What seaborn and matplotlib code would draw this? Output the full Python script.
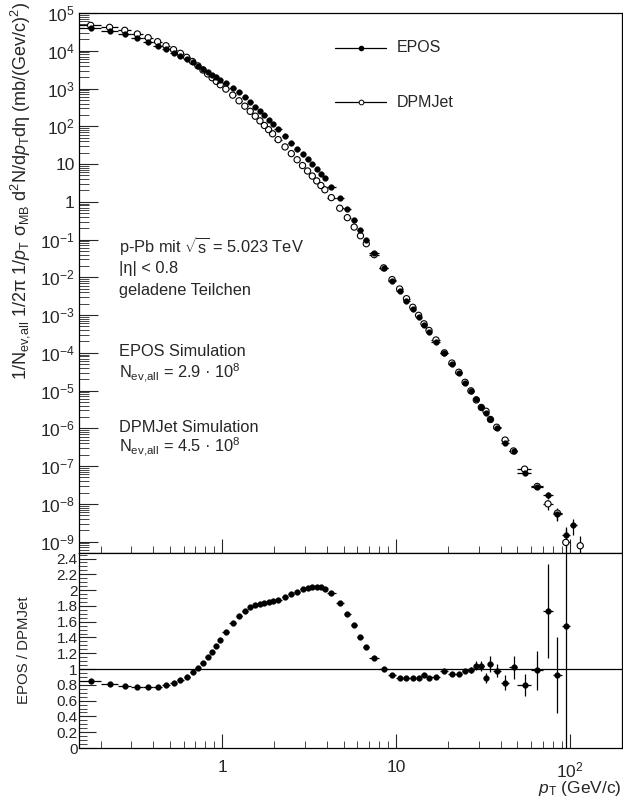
import numpy as np
import matplotlib
matplotlib.use("Agg")
import matplotlib.pyplot as plt
import seaborn as sns
from matplotlib.ticker import LogLocator, FuncFormatter, MultipleLocator, NullFormatter, FixedLocator
from matplotlib.lines import Line2D

sns.set_theme(style="ticks")
plt.rcParams["font.family"] = ["Liberation Sans", "DejaVu Sans"]
plt.rcParams["mathtext.fontset"] = "custom"
plt.rcParams["mathtext.rm"] = "Liberation Sans"
plt.rcParams["mathtext.it"] = "Liberation Sans:italic"
plt.rcParams["mathtext.bf"] = "Liberation Sans:bold"
plt.rcParams["axes.linewidth"] = 0.9
plt.rcParams["axes.edgecolor"] = "black"

# ---------------- data ----------------
pt = [0.175, 0.225, 0.275, 0.325, 0.375, 0.425, 0.475, 0.525, 0.575, 0.625, 0.675, 0.725, 0.775,
      0.825, 0.875, 0.925, 0.975,
      1.05, 1.15, 1.25, 1.35, 1.45, 1.55, 1.65, 1.75, 1.85, 1.95,
      2.1, 2.3, 2.5, 2.7, 2.9, 3.1, 3.3, 3.5, 3.7, 3.9,
      4.25, 4.75, 5.25, 5.75, 6.25, 6.75,
      7.5, 8.5, 9.5, 10.5, 11.5, 12.5, 13.5, 14.5, 15.5,
      17, 19, 21, 23, 25, 27, 29, 31, 33, 35, 38, 42.5, 47.5, 55, 65, 75, 85, 95]
pt_halfwidth = [0.025] * 17 + [0.05] * 10 + [0.1] * 10 + [0.25] * 6 + [0.5] * 9 + [1.0] * 10 + \
               [2.0, 2.5, 2.5, 5, 5, 5, 5, 5]

epos_pt = pt + [105]
epos_halfwidth = pt_halfwidth + [5]
epos = [4.03e4, 3.39e4, 2.74e4, 2.14e4, 1.71e4, 1.36e4, 1.09e4, 8.83e3, 7.35e3, 6.04e3, 4.97e3,
        4.03e3, 3.33e3, 2.79e3, 2.35e3, 2.01e3, 1.72e3,
        1.42e3, 1.06e3, 794, 594, 445, 334, 254, 194, 150, 117,
        83.2, 54.5, 36.9, 25.7, 18.4, 13.3, 9.77, 7.29, 5.51, 4.19,
        2.53, 1.245, 0.646, 0.332, 0.177, 0.0995,
        0.0454, 0.0178, 8.13e-3, 4.35e-3, 2.40e-3, 1.42e-3, 8.71e-4, 5.46e-4, 3.49e-4,
        1.97e-4, 9.70e-5, 5.05e-5, 2.86e-5, 1.61e-5, 9.77e-6, 5.89e-6, 3.72e-6, 2.51e-6, 1.82e-6,
        1.05e-6, 4.17e-7, 2.57e-7, 6.76e-8, 2.85e-8, 1.70e-8, 5.28e-9, 1.48e-9, 2.69e-9]
epos_relerr = [0.005] * 52 + [0.02, 0.02, 0.025, 0.03, 0.035, 0.04, 0.045, 0.05, 0.055, 0.06] + \
              [0.06, 0.07, 0.09, 0.10, 0.15, 0.20, 0.35, 0.50, 0.45]

dpm_pt = pt + [115]
dpm_halfwidth = pt_halfwidth + [5]
dpmjet = [4.71e4, 4.17e4, 3.48e4, 2.78e4, 2.22e4, 1.74e4, 1.36e4, 1.07e4, 8.55e3, 6.70e3, 5.19e3,
          3.98e3, 3.09e3, 2.43e3, 1.93e3, 1.55e3, 1.26e3,
          966, 668, 473, 341, 249, 185, 139, 105, 81.3, 63.2,
          44.3, 28.4, 18.9, 13.0, 9.12, 6.55, 4.80, 3.57, 2.70, 2.08,
          1.29, 0.676, 0.380, 0.214, 0.126, 0.0776,
          0.0398, 0.0178, 8.71e-3, 4.91e-3, 2.72e-3, 1.61e-3, 9.84e-4, 5.87e-4, 3.92e-4,
          2.19e-4, 1.0e-4, 5.37e-5, 3.06e-5, 1.66e-5, 9.86e-6, 5.66e-6, 3.58e-6, 2.84e-6, 1.72e-6,
          1.07e-6, 4.90e-7, 2.52e-7, 8.32e-8, 2.90e-8, 1.0e-8, 5.69e-9, 9.55e-10, 7.76e-10]
dpm_relerr = [0.005] * 52 + [0.02, 0.02, 0.025, 0.03, 0.035, 0.04, 0.045, 0.05, 0.055, 0.06] + \
             [0.06, 0.07, 0.09, 0.10, 0.15, 0.30, 0.35, 1.50, 0.80]

ratio = [0.855, 0.813, 0.788, 0.771, 0.771, 0.779, 0.797, 0.826, 0.86, 0.902, 0.957, 1.012, 1.08,
         1.148, 1.22, 1.296, 1.368,
         1.47, 1.588, 1.677, 1.741, 1.783, 1.808, 1.826, 1.838, 1.847, 1.859,
         1.88, 1.914, 1.948, 1.982, 2.012, 2.029, 2.037, 2.04, 2.037, 2.012,
         1.965, 1.842, 1.70, 1.554, 1.406, 1.283,
         1.14, 1.0, 0.928, 0.885, 0.885, 0.885, 0.885, 0.928, 0.89,
         0.898, 0.97, 0.94, 0.936, 0.974, 0.99, 1.04, 1.037, 0.885, 1.06,
         0.98, 0.826, 1.02, 0.797, 0.982, 1.737, 0.928, 1.546]
ratio_err = [0.005] * 43 + [0.008] * 9 + \
            [0.015, 0.018, 0.02, 0.025, 0.03, 0.04, 0.057, 0.065, 0.06, 0.1] + \
            [0.08, 0.095, 0.14, 0.135, 0.245, 0.6, 0.48, 1.6]

NEV = "N$_{\\mathrm{ev,\\!all}}$"
text_lines = ["p-Pb mit $\\sqrt{\\mathrm{s}}$ = 5.023 TeV", "|η| < 0.8", "geladene Teilchen",
              "EPOS Simulation", NEV + " = 2.9 · 10$^{8}$",
              "DPMJet Simulation", NEV + " = 4.5 · 10$^{8}$"]
legend_labels = ["EPOS", "DPMJet"]

# ---------------- figure ----------------
W, H = 623, 798
fig = plt.figure(figsize=(W / 100, H / 100), dpi=100)
L, R = 79, 622
ax1 = fig.add_axes([L / W, 1 - 553 / H, (R - L) / W, (553 - 13) / H])
ax2 = fig.add_axes([L / W, 1 - 748 / H, (R - L) / W, (748 - 553) / H])

def fx(x):
    return x / W

def fy(y):
    return 1 - y / H

ep = np.array(epos); epe = np.array(epos_relerr) * ep
dp = np.array(dpmjet); dpe = np.array(dpm_relerr) * dp

ax1.set_xscale("log")
ax1.set_yscale("log")
ax1.errorbar(epos_pt, ep, xerr=epos_halfwidth, yerr=[np.minimum(epe, 0.999 * ep), epe],
             fmt="none", ecolor="black", elinewidth=0.9, capsize=0, zorder=1)
ax1.errorbar(dpm_pt, dp, xerr=dpm_halfwidth, yerr=[np.minimum(dpe, 0.999 * dp), dpe],
             fmt="none", ecolor="black", elinewidth=0.9, capsize=0, zorder=1)
sns.scatterplot(x=dpm_pt, y=dpmjet, ax=ax1, s=20, color="white", edgecolor="none", linewidth=0, zorder=2)
sns.scatterplot(x=epos_pt, y=epos, ax=ax1, s=17, color="black", edgecolor="black", linewidth=0.3, zorder=3)
sns.scatterplot(x=dpm_pt, y=dpmjet, ax=ax1, s=20, color="black", facecolor="none", edgecolor="black",
                linewidth=0.8, zorder=4)
ax1.set_xlim(0.15, 200)
ax1.set_ylim(5e-10, 1e5)

def pow_fmt(v, pos):
    e = int(round(np.log10(v)))
    if e == 0:
        return "1"
    if e == 1:
        return "10"
    return "$10^{%d}$" % e

ax1.yaxis.set_major_locator(FixedLocator([10.0 ** k for k in range(-9, 6)]))
ax1.yaxis.set_minor_locator(LogLocator(base=10, subs=np.arange(2, 10), numticks=40))
ax1.yaxis.set_major_formatter(FuncFormatter(pow_fmt))
ax1.yaxis.set_minor_formatter(NullFormatter())
ax1.xaxis.set_major_locator(FixedLocator([1, 10, 100]))
ax1.xaxis.set_minor_locator(LogLocator(base=10, subs=np.arange(2, 10), numticks=40))
ax1.tick_params(axis="y", which="major", direction="in", length=14, width=0.8, labelsize=12.5, pad=3,
                left=True, right=False)
ax1.tick_params(axis="y", which="minor", direction="in", length=7, width=0.6, left=True, right=False)
ax1.tick_params(axis="x", which="major", direction="in", length=10, width=0.8, labelbottom=False,
                bottom=True, top=False)
ax1.tick_params(axis="x", which="minor", direction="in", length=5, width=0.6, bottom=True, top=False)
ax1.set_xlabel("")
ax1.set_ylabel("")

# ratio panel
ax2.set_xscale("log")
ax2.axhline(1, color="black", lw=0.9, zorder=1)
ax2.errorbar(pt, ratio, xerr=pt_halfwidth, yerr=ratio_err, fmt="none", ecolor="black",
             elinewidth=0.9, capsize=0, zorder=2)
sns.scatterplot(x=pt, y=ratio, ax=ax2, s=17, color="black", edgecolor="black", linewidth=0.3, zorder=3)
ax2.set_xlim(0.15, 200)
ax2.set_ylim(0, 2.47)
ax2.xaxis.set_major_locator(FixedLocator([1, 10, 100]))
ax2.xaxis.set_minor_locator(LogLocator(base=10, subs=np.arange(2, 10), numticks=40))
ax2.xaxis.set_major_formatter(FuncFormatter(pow_fmt))
ax2.xaxis.set_minor_formatter(NullFormatter())
ax2.yaxis.set_major_locator(MultipleLocator(0.2))
ax2.yaxis.set_minor_locator(MultipleLocator(0.05))
ax2.yaxis.set_major_formatter(FuncFormatter(lambda v, p: "%g" % round(v, 2)))
ax2.tick_params(axis="y", which="major", direction="in", length=12, width=0.8, labelsize=11, pad=1,
                left=True, right=False)
ax2.tick_params(axis="y", which="minor", direction="in", length=6, width=0.6, left=True, right=False)
ax2.tick_params(axis="x", which="major", direction="in", length=10, width=0.8, labelsize=12.5, pad=9,
                bottom=True, top=False)
ax2.tick_params(axis="x", which="minor", direction="in", length=5, width=0.6, bottom=True, top=False)
ax2.set_xlabel("")
ax2.set_ylabel("")

# axis titles
fig.text(fx(20), fy(2), NEV.replace("N", "1/N", 1) + " 1/2π 1/$p_{\\mathrm{T}}$ σ$_{\\mathrm{MB}}$ "
         "d$^{2}$N/d$p_{\\mathrm{T}}$dη (mb/(Gev/c)$^{2}$)",
         rotation=90, ha="center", va="top", fontsize=13)
fig.text(fx(24), fy(650), "EPOS / DPMJet", rotation=90, ha="center", va="center", fontsize=10.8)
fig.text(fx(622), fy(789), "$p_{\\mathrm{T}}$ (GeV/c)", ha="right", va="center", fontsize=12.5)

# annotation texts
text_y = [247, 269, 291, 352, 372, 427, 447]
for t, yy in zip(text_lines, text_y):
    fig.text(fx(119), fy(yy), t, ha="left", va="center", fontsize=11.8)

# legend
for i, (lab, yy) in enumerate(zip(legend_labels, [47.7, 102.3])):
    fig.add_artist(Line2D([fx(335), fx(386)], [fy(yy), fy(yy)], color="black", lw=0.9))
    if i == 0:
        fig.add_artist(Line2D([fx(360.5)], [fy(yy)], marker="o", ms=3.0, color="black", mec="black"))
    else:
        fig.add_artist(Line2D([fx(360.5)], [fy(yy)], marker="o", ms=3.4, mfc="white", mec="black", mew=0.7))
    fig.text(fx(397), fy(yy), lab, ha="left", va="center", fontsize=11.5)

fig.savefig("out.png", dpi=100)
